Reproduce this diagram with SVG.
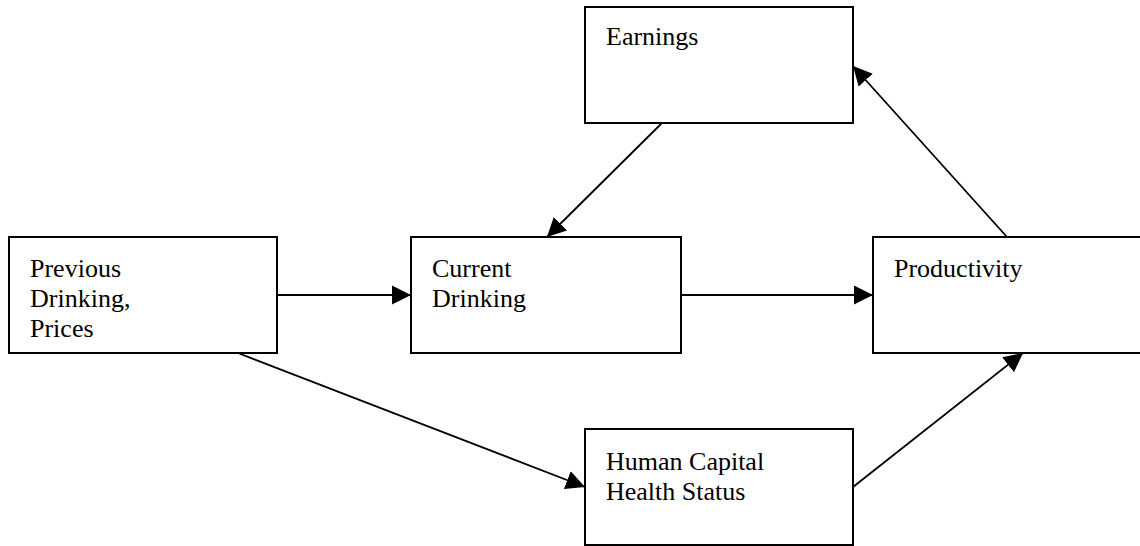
<svg xmlns="http://www.w3.org/2000/svg" width="1140" height="546" viewBox="0 0 1140 546">
<style>
.box{fill:#fff;stroke:#000;stroke-width:2}
.lbl{font-family:"Liberation Serif","Times New Roman",serif;font-size:26px;fill:#000}
.con{stroke:#000;stroke-width:1.8;fill:none;marker-end:url(#ah)}
</style>
<defs>
<marker id="ah" viewBox="0 0 20 20" markerUnits="userSpaceOnUse" markerWidth="19" markerHeight="20" refX="20" refY="10" orient="auto">
<path d="M0,0 L20,10 L0,20 z" fill="#000"/>
</marker>
</defs>
<rect width="1140" height="546" fill="#fff"/>
<g id="earnings"><rect class="box" x="585" y="7" width="268" height="116"/><text class="lbl" x="606" y="45">Earnings</text></g>
<g id="previous"><rect class="box" x="9" y="237" width="268" height="116"/><text class="lbl" x="30" y="277">Previous</text><text class="lbl" x="30" y="307">Drinking,</text><text class="lbl" x="30" y="337">Prices</text></g>
<g id="current"><rect class="box" x="411" y="237" width="270" height="116"/><text class="lbl" x="432" y="277">Current</text><text class="lbl" x="432" y="307">Drinking</text></g>
<g id="productivity"><rect class="box" x="873" y="237" width="272" height="116"/><text class="lbl" x="894" y="277">Productivity</text></g>
<g id="human"><rect class="box" x="585" y="429" width="268" height="116"/><text class="lbl" x="606" y="470">Human Capital</text><text class="lbl" x="606" y="500">Health Status</text></g>
<g id="connectors">
<line class="con" x1="277" y1="295" x2="411" y2="295"/>
<line class="con" x1="681" y1="295" x2="873" y2="295"/>
<line class="con" x1="662" y1="123" x2="547" y2="237"/>
<line class="con" x1="1007" y1="237" x2="853" y2="66"/>
<line class="con" x1="238" y1="353" x2="585" y2="487"/>
<line class="con" x1="853" y1="487" x2="1023" y2="353"/>
</g>
</svg>
